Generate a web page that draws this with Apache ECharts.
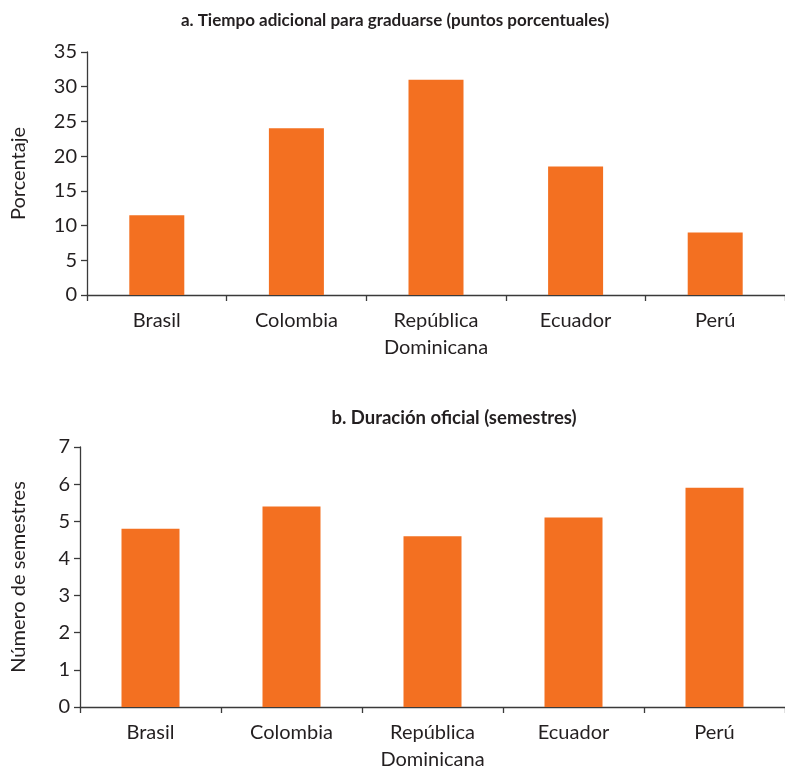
<!DOCTYPE html>
<html>
<head>
<meta charset="utf-8">
<script src="https://cdn.jsdelivr.net/npm/echarts@6/dist/echarts.min.js"></script>
<style>
html,body{margin:0;padding:0;background:#fff;}
#c{width:785px;height:774px;}
</style>
</head>
<body>
<div id="c"></div>
<script>
var categories = ['Brasil', 'Colombia', 'República\nDominicana', 'Ecuador', 'Perú'];
var tiempoAdicional = [11.5, 24, 31, 18.5, 9];
var duracionOficial = [4.8, 5.4, 4.6, 5.1, 5.9];
var titleA = 'a. Tiempo adicional para graduarse (puntos porcentuales)';
var titleB = 'b. Duración oficial (semestres)';
var yNameA = 'Porcentaje';
var yNameB = 'Número de semestres';

var FONT = 'Lato';
var TXT = '#231f20';
var ORANGE = '#f37021';
var AX = '#3a3a3a';

function xAxisCfg(idx) {
  return {
    type: 'category', gridIndex: idx, data: categories,
    axisLine: {lineStyle: {color: AX, width: 1.3}},
    axisTick: {show: true, length: 6, lineStyle: {color: AX, width: 1.3}},
    axisLabel: {color: TXT, fontFamily: FONT, fontSize: 20, margin: 12, lineHeight: 27}
  };
}
function yAxisCfg(idx, max, interval, name, gap) {
  return {
    type: 'value', gridIndex: idx, min: 0, max: max, interval: interval,
    name: name, nameLocation: 'middle', nameGap: gap, nameRotate: 90,
    nameTextStyle: {color: TXT, fontFamily: FONT, fontSize: 20},
    splitLine: {show: false},
    axisLine: {show: true, lineStyle: {color: AX, width: 1.3}},
    axisTick: {show: true, length: 6, lineStyle: {color: AX, width: 1.3}},
    axisLabel: {color: TXT, fontFamily: FONT, fontSize: 20, margin: 10}
  };
}

var chart = echarts.init(document.getElementById('c'), null, {renderer: 'canvas'});
chart.setOption({
  animation: false,
  backgroundColor: '#fff',
  title: [
    {text: titleA, left: 390, top: 7, textAlign: 'center',
     textStyle: {fontFamily: FONT, fontWeight: 'bold', fontSize: 17, color: TXT}},
    {text: titleB, left: 449, top: 404, textAlign: 'center',
     textStyle: {fontFamily: FONT, fontWeight: 'bold', fontSize: 18.5, color: TXT}}
  ],
  grid: [
    {left: 87, top: 52, width: 705, height: 243, containLabel: false},
    {left: 80, top: 447, width: 710, height: 260, containLabel: false}
  ],
  xAxis: [xAxisCfg(0), xAxisCfg(1)],
  yAxis: [yAxisCfg(0, 35, 5, yNameA, 58), yAxisCfg(1, 7, 1, yNameB, 51)],
  series: [
    {type: 'bar', xAxisIndex: 0, yAxisIndex: 0, data: tiempoAdicional, barWidth: 55,
     itemStyle: {color: ORANGE}},
    {type: 'bar', xAxisIndex: 1, yAxisIndex: 1, data: duracionOficial, barWidth: 58,
     itemStyle: {color: ORANGE}}
  ]
});
</script>
</body>
</html>
